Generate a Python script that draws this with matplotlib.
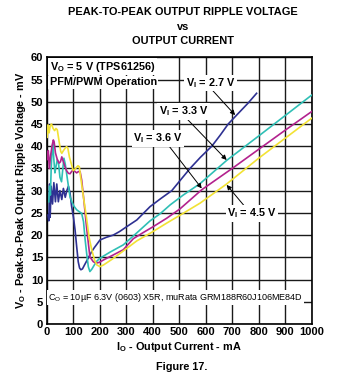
import matplotlib
matplotlib.use("Agg")
import matplotlib.pyplot as plt

plt.rcParams["font.family"] = ["Liberation Sans", "DejaVu Sans"]
plt.rcParams["font.weight"] = "bold"
plt.rcParams["mathtext.fontset"] = "custom"
plt.rcParams["mathtext.rm"] = "Liberation Sans:bold"
plt.rcParams["mathtext.bf"] = "Liberation Sans:bold"
plt.rcParams["mathtext.it"] = "Liberation Sans:bold"

# output current (mA) / peak-to-peak ripple (mV)
i_27 = [5, 8, 11, 13, 17, 22, 27, 33, 38, 44, 50, 57, 63, 70, 76, 82, 88, 94,
        101, 107, 113, 119, 124, 129, 135, 142, 151, 160, 170, 180, 190, 201,
        225, 251, 275, 302, 340, 390, 430, 472, 505, 541, 580, 623, 655, 685,
        720, 760, 792]
v_27 = [24.5, 23.2, 31.5, 24.0, 31.0, 27.0, 31.8, 27.5, 31.5, 27.5, 30.0,
        28.0, 30.5, 28.5, 30.0, 31.0, 29.5, 26.5, 24.0, 21.2, 17.5, 14.0, 12.6,
        12.2, 12.4, 13.2, 14.2, 15.2, 16.3, 17.2, 18.0, 18.9, 19.5, 20.0, 20.8,
        21.9, 23.4, 26.4, 28.2, 30.0, 32.4, 35.0, 37.5, 40.0, 42.5, 45.0, 47.2,
        49.7, 51.9]

i_33 = [8, 11, 14, 17, 20, 23, 27, 31, 35, 40, 45, 50, 56, 61, 65, 70, 76, 82,
        88, 95, 103, 113, 122, 132, 139, 145, 151, 157, 163, 170, 180, 190, 201,
        240, 289, 340, 390, 428, 466, 515, 579, 679, 800, 900, 1000]
v_33 = [27.5, 31.0, 29.0, 35.0, 39.0, 40.5, 37.0, 34.0, 35.4, 37.0, 36.0, 33.0,
        32.0, 35.0, 37.3, 36.0, 33.5, 31.0, 28.6, 27.5, 26.5, 25.7, 25.3, 24.9,
        23.0, 19.0, 15.8, 12.9, 11.8, 12.3, 13.3, 14.2, 14.8, 16.2, 17.8, 20.5,
        23.2, 24.8, 26.8, 29.0, 31.6, 36.8, 42.3, 46.9, 51.5]

i_36 = [3, 6, 10, 15, 20, 25, 28, 33, 40, 47, 52, 57, 63, 69, 75, 82, 88, 94,
        100, 107, 113, 120, 126, 132, 140, 150, 163, 176, 188, 200, 214, 250,
        289, 327, 365, 402, 453, 503, 585, 700, 800, 900, 1000]
v_36 = [37.0, 39.0, 35.0, 38.0, 40.0, 41.4, 41.0, 38.5, 37.0, 36.2, 36.5, 37.6,
        36.5, 35.4, 34.5, 33.9, 33.8, 34.3, 34.7, 34.3, 34.0, 34.3, 34.3, 32.4,
        28.0, 22.0, 15.1, 14.0, 13.7, 13.9, 14.4, 15.5, 16.7, 19.2, 20.6, 21.9,
        23.8, 25.9, 30.2, 35.0, 39.3, 43.6, 47.8]

i_45 = [2, 5, 9, 13, 18, 24, 30, 35, 40, 47, 53, 57, 63, 69, 75, 80, 86, 94,
        100, 106, 112, 118, 123, 128, 140, 150, 160, 170, 180, 189, 201, 215,
        250, 302, 340, 390, 453, 515, 579, 679, 800, 900, 1000]
v_45 = [42.0, 44.8, 43.0, 44.5, 45.0, 44.0, 43.5, 44.0, 43.7, 41.0, 38.8, 38.4,
        39.0, 39.5, 39.9, 39.5, 37.5, 35.8, 34.5, 34.8, 35.2, 35.6, 35.4, 33.1,
        28.0, 24.0, 19.5, 16.7, 14.5, 13.3, 12.9, 13.3, 14.7, 17.0, 18.7, 20.4,
        22.7, 24.9, 27.2, 31.5, 37.3, 41.8, 46.3]

series = [
    (i_27, v_27, "#2e3192"),
    (i_33, v_33, "#2fbfb5"),
    (i_36, v_36, "#b3228e"),
    (i_45, v_45, "#f2e235"),
]

fig = plt.figure(figsize=(3.5, 3.8), dpi=100)
ax = fig.add_axes([0.1334, 0.1474, 0.7572, 0.7018])

for cur, rip, col in series:
    ax.plot(cur, rip, color=col, lw=1.2, zorder=3)

ax.set_xlim(0, 1000)
ax.set_ylim(0, 60)
ax.set_xticks(range(0, 1001, 100))
ax.set_yticks(range(0, 61, 5))
ax.tick_params(length=0, pad=2.5, labelsize=8)
ax.grid(True, color="#1a1a1a", lw=1.0)
ax.set_axisbelow(True)
for s in ax.spines.values():
    s.set_linewidth(1.2)

ax.set_xlabel(r"I$_\mathregular{O}$ - Output Current - mA", fontsize=7.8,
              fontweight="bold", labelpad=2)
ax.set_ylabel(r"V$_\mathregular{O}$ - Peak-to-Peak Output Ripple Voltage - mV",
              fontsize=7.8, fontweight="bold", labelpad=2)

box = dict(facecolor="white", edgecolor="none", pad=1.0)
arrow = dict(arrowstyle="-|>", color="black", lw=0.7, mutation_scale=7,
             shrinkA=0, shrinkB=0)

ax.text(12, 57.9, r"V$_\mathregular{O}$ = 5 V (TPS61256)", fontsize=7.8,
        ha="left", va="center", bbox=box, zorder=5)
ax.text(12, 54.4, "PFM/PWM Operation", fontsize=7.8, ha="left", va="center",
        bbox=box, zorder=5)

labels = [
    (r"V$_\mathregular{I}$ = 2.7 V", (618, 54.2), (616, 53.2), (711, 47.0)),
    (r"V$_\mathregular{I}$ = 3.3 V", (516, 47.8), (522, 46.6), (679, 36.9)),
    (r"V$_\mathregular{I}$ = 3.6 V", (420, 41.8), (453, 40.7), (585, 30.5)),
    (r"V$_\mathregular{I}$ = 4.5 V", (774, 24.9), (755, 25.9), (679, 31.3)),
]
for txt, pos, start, head in labels:
    ax.annotate("", xy=head, xytext=start, arrowprops=arrow, zorder=4)
    ax.text(pos[0], pos[1], txt, fontsize=7.8, ha="center", va="center",
            bbox=box, zorder=5)

ax.text(5, 5.9, r"C$_\mathregular{O}$ = 10µF 6.3V (0603) X5R, muRata GRM188R60J106ME84D",
        fontsize=6.5, fontweight="normal", ha="left", va="center",
        bbox=dict(facecolor="white", edgecolor="none", pad=0.8), zorder=5)

fig.text(0.523, 1 - 12 / 380, "PEAK-TO-PEAK OUTPUT RIPPLE VOLTAGE",
         ha="center", va="center", fontsize=7.9, fontweight="bold")
fig.text(0.523, 1 - 27 / 380, "vs", ha="center", va="center", fontsize=7.9,
         fontweight="bold")
fig.text(0.523, 1 - 41 / 380, "OUTPUT CURRENT", ha="center", va="center",
         fontsize=7.9, fontweight="bold")
fig.text(0.52, 1 - 367 / 380, "Figure 17.", ha="center", va="center",
         fontsize=7.8, fontweight="bold")

fig.savefig("out.png", dpi=100)
